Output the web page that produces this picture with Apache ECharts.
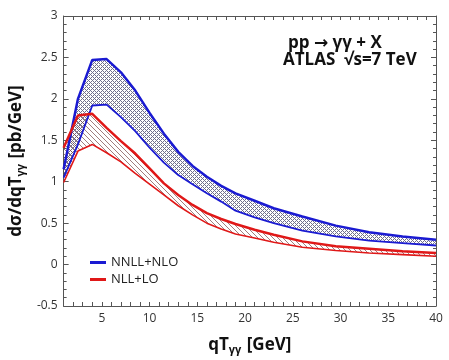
<!DOCTYPE html>
<html>
<head>
<meta charset="utf-8">
<script src="https://cdn.jsdelivr.net/npm/echarts@6/dist/echarts.min.js"></script>
<style>
html, body { margin: 0; padding: 0; background: #fff; }
#main { width: 449px; height: 360px; }
</style>
</head>
<body>
<div id="main"></div>
<script>
// qT points (GeV) and band edges (pb/GeV)
var qt     = [1, 2.5, 4, 5.5, 7, 8.5, 10, 11.5, 13, 14.5, 16, 17.5, 19, 21, 23, 26, 29.5, 33, 36.5, 40];
var nnllHi = [1.15, 2.0, 2.47, 2.48, 2.32, 2.1, 1.83, 1.58, 1.36, 1.19, 1.06, 0.95, 0.86, 0.77, 0.68, 0.58, 0.47, 0.39, 0.34, 0.30];
var nnllLo = [1.05, 1.45, 1.92, 1.93, 1.78, 1.61, 1.41, 1.23, 1.08, 0.97, 0.86, 0.76, 0.65, 0.57, 0.5, 0.41, 0.34, 0.29, 0.26, 0.23];
var nllHi  = [1.41, 1.80, 1.82, 1.65, 1.49, 1.34, 1.16, 0.98, 0.84, 0.72, 0.62, 0.55, 0.49, 0.42, 0.36, 0.28, 0.22, 0.19, 0.16, 0.14];
var nllLo  = [0.99, 1.37, 1.45, 1.35, 1.24, 1.1, 0.97, 0.84, 0.71, 0.6, 0.5, 0.43, 0.37, 0.32, 0.27, 0.21, 0.17, 0.14, 0.12, 0.10];
var seriesNames = ['NNLL+NLO', 'NLL+LO'];

var BLUE = '#1a1ad2', RED = '#e01818';
var FONT = '"Open Sans", "DejaVu Sans", sans-serif';

// small canvas tiles used as hatch fills
function crossHatch() {
  var c = document.createElement('canvas');
  c.width = 4; c.height = 4;
  var g = c.getContext('2d');
  g.fillStyle = 'rgba(25,25,70,0.62)';
  for (var x = 0; x < 4; x++)
    for (var y = 0; y < 4; y++)
      if ((x + y) % 4 === 0 || ((x - y) + 4) % 4 === 0) g.fillRect(x, y, 1, 1);
  return c;
}
function diagHatch() {
  var c = document.createElement('canvas');
  c.width = 5; c.height = 5;
  var g = c.getContext('2d');
  g.fillStyle = 'rgba(120,70,70,0.7)';
  for (var i = 0; i < 5; i++) g.fillRect(i, i, 1, 1);
  return c;
}

function pairs(ys) {
  return qt.map(function (x, i) { return [x, ys[i]]; });
}

function band(hi, lo, tile, z) {
  return {
    type: 'custom',
    silent: true,
    z: z,
    data: [[qt[0], lo[0]]],
    renderItem: function (params, api) {
      var pts = [];
      for (var i = 0; i < qt.length; i++) pts.push(api.coord([qt[i], hi[i]]));
      for (var j = qt.length - 1; j >= 0; j--) pts.push(api.coord([qt[j], lo[j]]));
      return {
        type: 'polygon',
        shape: { points: pts },
        style: { fill: { image: tile, repeat: 'repeat' }, stroke: null }
      };
    }
  };
}

function line(name, ys, color, width, z) {
  return {
    name: name,
    type: 'line',
    data: pairs(ys),
    symbol: 'none',
    silent: true,
    z: z,
    lineStyle: { color: color, width: width },
    itemStyle: { color: color }
  };
}

var axisCol = '#555';
var subRich = {
  a: { fontSize: 17, fontWeight: 'bold', color: '#111', fontFamily: FONT },
  s: { fontSize: 11, fontWeight: 'bold', color: '#111', fontFamily: FONT, verticalAlign: 'bottom', padding: [8, 1, 0, 0] }
};
var chart = echarts.init(document.getElementById('main'));

chart.setOption({
  animation: false,
  textStyle: { fontFamily: FONT },
  grid: { left: 55, right: 13, top: 16, bottom: 53 },
  legend: {
    data: seriesNames,
    orient: 'vertical',
    left: 85,
    top: 251,
    icon: 'rect',
    itemWidth: 16,
    itemHeight: 3,
    itemGap: 4,
    textStyle: { fontSize: 13, color: '#222', fontFamily: FONT }
  },
  xAxis: [{
    type: 'value', min: 1, max: 40, interval: 1,
    name: '{a|qT}{s|γγ}{a| [GeV]}',
    nameLocation: 'middle',
    nameGap: 30,
    nameTextStyle: { rich: subRich },
    axisLine: { onZero: false, lineStyle: { color: axisCol } },
    axisTick: { inside: true, length: 4, lineStyle: { color: axisCol } },
    axisLabel: {
      fontSize: 12, color: '#333', margin: 7,
      formatter: function (v) { return v % 5 === 0 ? String(v) : ''; }
    },
    splitLine: { show: false }
  }, {
    type: 'value', min: 1, max: 40, interval: 1, position: 'top',
    axisLine: { onZero: false, lineStyle: { color: axisCol } },
    axisTick: { inside: true, length: 4, lineStyle: { color: axisCol } },
    axisLabel: { show: false },
    splitLine: { show: false }
  }],
  yAxis: [{
    type: 'value', min: -0.5, max: 3, interval: 0.5,
    name: '{a|dσ/dqT}{s|γγ}{a| [pb/GeV]}',
    nameLocation: 'middle',
    nameGap: 30,
    nameTextStyle: { rich: subRich },
    axisLine: { show: true, onZero: false, lineStyle: { color: axisCol } },
    axisTick: { show: true, inside: true, length: 5, lineStyle: { color: axisCol } },
    minorTick: { show: true, splitNumber: 5, length: 3, lineStyle: { color: axisCol } },
    axisLabel: { fontSize: 12, color: '#333', margin: 6 },
    splitLine: { show: false }
  }, {
    type: 'value', min: -0.5, max: 3, interval: 0.5, position: 'right',
    axisLine: { show: true, onZero: false, lineStyle: { color: axisCol } },
    axisTick: { show: true, inside: true, length: 5, lineStyle: { color: axisCol } },
    minorTick: { show: true, splitNumber: 5, length: 3, lineStyle: { color: axisCol } },
    axisLabel: { show: false },
    splitLine: { show: false }
  }],
  graphic: [
    { type: 'text', left: 288, top: 35, style: { text: 'pp → γγ + X', font: 'bold 17px ' + FONT, fill: '#111' } },
    { type: 'text', left: 283, top: 52, style: { text: 'ATLAS  √s=7 TeV', font: 'bold 17px ' + FONT, fill: '#111' } }
  ],
  series: [
    band(nnllHi, nnllLo, crossHatch(), 1),
    band(nllHi, nllLo, diagHatch(), 2),
    line('NNLL+NLO', nnllHi, BLUE, 2.5, 3),
    line('nnll-lo', nnllLo, BLUE, 1.8, 3),
    line('NLL+LO', nllHi, RED, 2.5, 4),
    line('nll-lo', nllLo, RED, 1.6, 4)
  ]
});
</script>
</body>
</html>
